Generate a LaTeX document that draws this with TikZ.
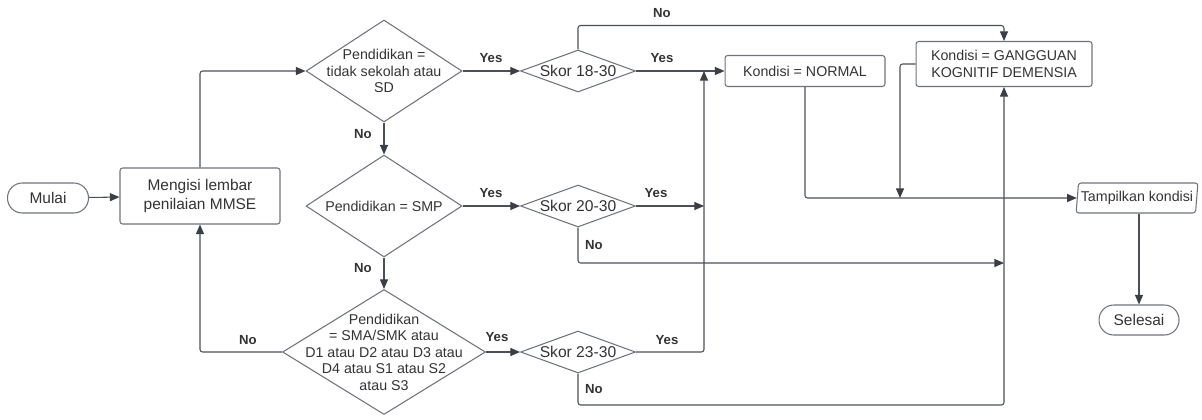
\documentclass[tikz,border=0pt]{standalone}
\usepackage{fontspec}
\setmainfont{Liberation Sans}
\usetikzlibrary{arrows.meta,shapes.geometric}
\definecolor{line-gray}{HTML}{4B5058}
\definecolor{box-gray}{HTML}{6E737B}
\definecolor{text-gray}{HTML}{333333}
\definecolor{tip-gray}{HTML}{3A3F47}

\begin{document}
\begin{tikzpicture}[x=0.02cm, y=-0.02cm,
    every node/.style={text=text-gray},
    box/.style={draw=box-gray, line width=0.6pt, rounded corners=1.5pt,
      align=center, inner sep=0pt, font=\fontsize{8.1}{9.5}\selectfont},
    term/.style={box, rounded corners=8.4pt, minimum width=1.62cm,
      minimum height=0.6cm, font=\fontsize{8.8}{10.4}\selectfont},
    dec/.style={draw=box-gray, line width=0.6pt, diamond, inner sep=-40pt,
      align=center, font=\fontsize{8.1}{9.4}\selectfont},
    skor/.style={dec, minimum width=2.3cm, minimum height=0.84cm,
      font=\fontsize{8.9}{10}\selectfont},
    flow/.style={draw=line-gray, line width=0.6pt, rounded corners=1.5pt,
      -{Triangle[length=5.5pt, width=4.6pt, color=tip-gray]}},
    lbl/.style={font=\fontsize{7.5}{8}\selectfont\bfseries}]
    \useasboundingbox (0,0) rectangle (1202,419);

    \node[term] (mulai) at (48,198) {Mulai};
    \node[box, minimum width=3.2cm, minimum height=1.12cm,
      font=\fontsize{8.8}{10.4}\selectfont] (isi) at (200,196)
      {Mengisi lembar\\penilaian MMSE};
    \node[dec, minimum width=3.12cm, minimum height=2.04cm] (pd1) at (384,71)
      {Pendidikan =\\tidak sekolah atau\\SD};
    \node[dec, minimum width=3.12cm, minimum height=2.04cm] (pd2) at (384,206)
      {Pendidikan = SMP};
    \node[dec, minimum width=4.06cm, minimum height=2.5cm] (pd3) at (384,352)
      {Pendidikan\\= SMA/SMK atau\\D1 atau D2 atau D3 atau\\D4 atau S1 atau S2\\atau S3};
    \node[skor] (sk1) at (578,71) {Skor 18-30};
    \node[skor] (sk2) at (578,206) {Skor 20-30};
    \node[skor] (sk3) at (578,352) {Skor 23-30};
    \node[box, minimum width=3.2cm, minimum height=0.62cm] (normal) at (805,71)
      {Kondisi = NORMAL};
    \node[box, minimum width=3.52cm, minimum height=0.9cm] (demensia) at (1004,64)
      {Kondisi = GANGGUAN\\KOGNITIF DEMENSIA};
    \node[box, trapezium, trapezium left angle=80, trapezium right angle=100,
      trapezium stretches=true, minimum width=2.44cm, minimum height=0.6cm,
      inner xsep=0pt] (tampil) at (1137,198) {Tampilkan kondisi};
    \node[term, minimum width=1.6cm] (selesai) at (1139,320) {Selesai};

    \coordinate (gabung) at (704,71);
    \coordinate (kumpul) at (900,198);

    \draw[flow] (mulai) -- (isi);
    \draw[flow] (isi.north) |- (pd1.west);
    \draw[flow] (pd1.south) -- (pd2.north);
    \draw[flow] (pd2.south) -- (pd3.north);
    \draw[flow] (pd3.west) -| (isi.south);
    \draw[flow] (pd1.east) -- (sk1.west);
    \draw[flow] (pd2.east) -- (sk2.west);
    \draw[flow] (pd3.east) -- (sk3.west);
    \draw[flow] (sk1.north) -- ++(0,-24) -| (demensia.north);
    \draw[flow] (sk1.east) -- (normal.west);
    \draw[flow] (sk2.east) -- (sk2.east -| gabung);
    \draw[flow] (sk3.east) -| (gabung);
    \draw[flow] (sk2.south) |- (demensia.south |- 0,263);
    \draw[flow] (sk3.south) |- (demensia.south |- 0,405) -- (demensia.south);
    \draw[flow] (normal.south) |- (tampil.west);
    \draw[flow] (demensia.west) -| (kumpul);
    \draw[flow] (selesai.north |- tampil.south) -- (selesai.north);

    \node[lbl] (ya1) at (491,58) {Yes};
    \node[lbl] (tidak1) at (363,134) {No};
    \node[lbl] (ya2) at (491,193) {Yes};
    \node[lbl] (tidak2) at (363,268) {No};
    \node[lbl] (ya3) at (497,337) {Yes};
    \node[lbl] (tidak3) at (248,340) {No};
    \node[lbl] (tidak4) at (662,13) {No};
    \node[lbl] (ya4) at (662,58) {Yes};
    \node[lbl] (ya5) at (656,193) {Yes};
    \node[lbl] (tidak5) at (594,245) {No};
    \node[lbl] (ya6) at (667,340) {Yes};
    \node[lbl] (tidak6) at (594,389) {No};
  \end{tikzpicture}
\end{document}
